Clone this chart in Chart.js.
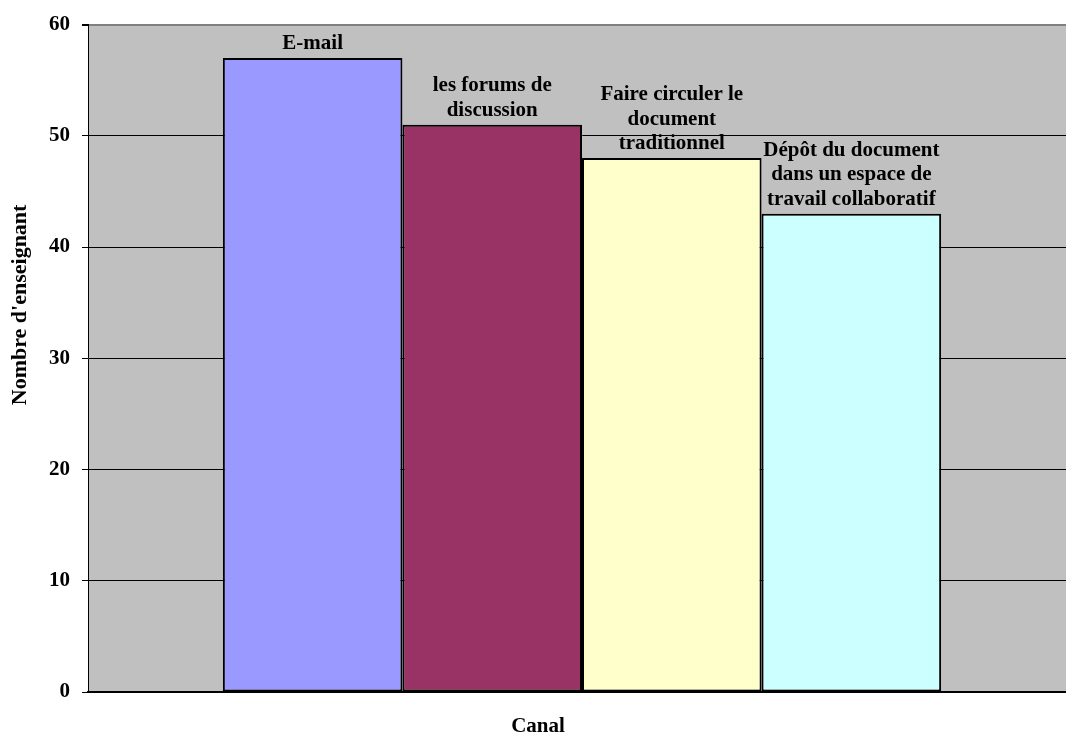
<!DOCTYPE html>
<html>
<head>
<meta charset="utf-8">
<script src="https://cdn.jsdelivr.net/npm/chart.js@4/dist/chart.umd.min.js"></script>
<style>
  html, body { margin: 0; padding: 0; background: #fff; overflow: hidden; }
  #wrap { width: 1076px; height: 733px; }
</style>
</head>
<body>
<div id="wrap"><canvas id="chart" width="1076" height="733"></canvas></div>
<script>
// data
const channelLabels = [
  ['E-mail'],
  ['les forums de', 'discussion'],
  ['Faire circuler le', 'document', 'traditionnel'],
  ['Dépôt du document', 'dans un espace de', 'travail collaboratif'],
];
const teacherCounts = [57, 51, 48, 43];
const barColors = ['#9999FF', '#993366', '#FFFFCC', '#CCFFFF'];
const yTicks = [0, 10, 20, 30, 40, 50, 60];
const yTitle = "Nombre d'enseignant";

const serif = '"Liberation Serif", "Times New Roman", serif';

// grey plot background like the Excel chart
const plotBackground = {
  id: 'plotBackground',
  beforeDraw(chart) {
    const { ctx, chartArea } = chart;
    ctx.save();
    ctx.fillStyle = '#C0C0C0';
    ctx.fillRect(chartArea.left, chartArea.top, chartArea.right - chartArea.left, chartArea.bottom - chartArea.top);
    ctx.restore();
  },
};

// multi-line labels above each bar + the y title (sits a bit above the axis middle)
const barLabels = {
  id: 'barLabels',
  afterDatasetsDraw(chart) {
    const ctx = chart.ctx;
    ctx.save();
    ctx.font = 'bold 21px ' + serif;
    ctx.fillStyle = '#000';
    ctx.textAlign = 'center';
    ctx.textBaseline = 'alphabetic';
    chart.data.datasets.forEach((ds, i) => {
      const bar = chart.getDatasetMeta(i).data[0];
      const lines = channelLabels[i];
      for (let j = 0; j < lines.length; j++) {
        const y = bar.y - 9 - (lines.length - 1 - j) * 24.5;
        ctx.fillText(lines[j], bar.x, y);
      }
    });

    const yScale = chart.scales.y;
    ctx.translate(20, yScale.getPixelForValue(34.8));
    ctx.rotate(-Math.PI / 2);
    ctx.font = 'bold 22px ' + serif;
    ctx.textBaseline = 'middle';
    ctx.fillText(yTitle, 0, 0);
    ctx.restore();
  },
};

const datasets = teacherCounts.map((v, i) => ({
  label: channelLabels[i].join(' '),
  data: [v],
  backgroundColor: barColors[i],
  borderColor: '#000',
  borderWidth: 2,
  borderSkipped: false,
  barPercentage: 1,
  categoryPercentage: 0.727,
}));

new Chart(document.getElementById('chart'), {
  type: 'bar',
  data: { labels: [''], datasets },
  plugins: [plotBackground, barLabels],
  options: {
    responsive: false,
    animation: false,
    devicePixelRatio: 1,
    layout: { padding: { top: 21, left: 0, right: 0, bottom: 0 } },
    plugins: {
      legend: { display: false },
      tooltip: { enabled: false },
      title: {
        display: true,
        position: 'bottom',
        text: 'Canal',
        color: '#000',
        font: { family: serif, size: 21, weight: 'bold', lineHeight: '13px' },
        padding: { top: 0, bottom: 0 },
      },
    },
    scales: {
      x: {
        grid: { display: false },
        border: { display: true, color: '#000', width: 2 },
        ticks: { display: false },
        afterFit: s => { s.height = 28; },
      },
      y: {
        min: 0,
        max: 60,
        afterBuildTicks: s => { s.ticks = yTicks.map(v => ({ value: v })); },
        afterFit: s => { s.width = 88; },
        grid: {
          color: c => (c.tick && c.tick.value === 60 ? '#808080' : '#000'),
          lineWidth: c => (c.tick && c.tick.value === 60 ? 2 : 1),
          drawTicks: true,
          tickLength: 6,
          tickColor: '#000',
        },
        border: { display: true, color: '#000', width: 1 },
        ticks: {
          color: '#000',
          padding: 12,
          font: { family: serif, size: 21, weight: 'bold' },
        },
      },
    },
  },
});
</script>
</body>
</html>
